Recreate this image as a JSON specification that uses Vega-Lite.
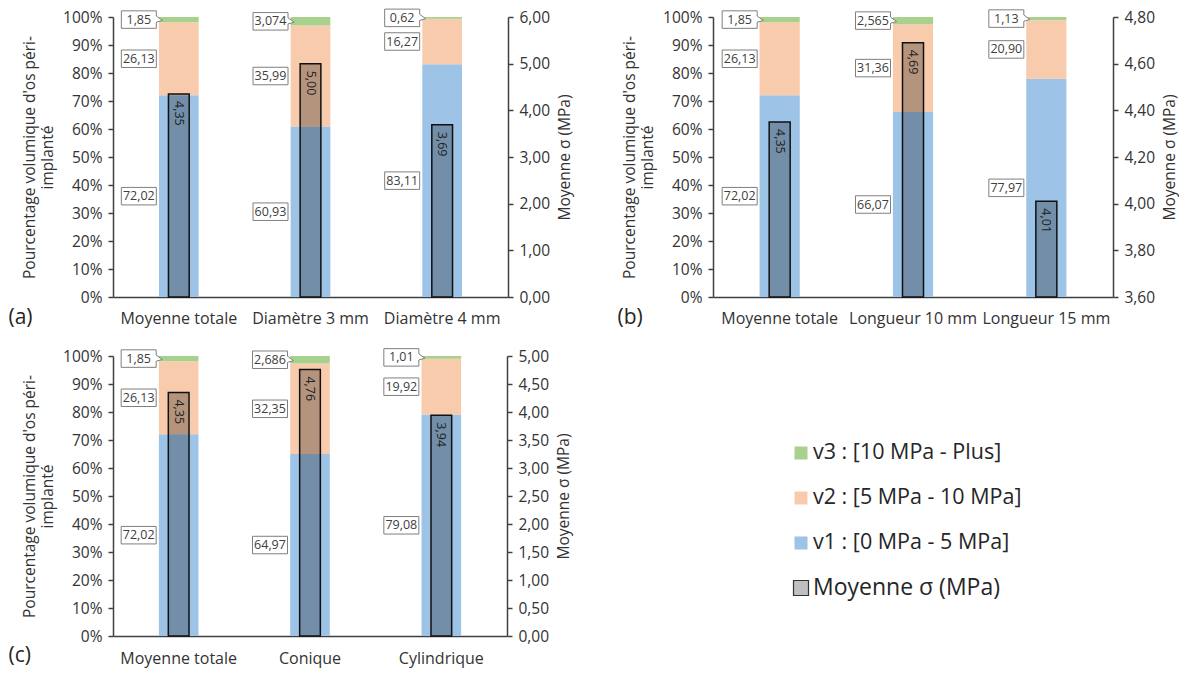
{
  "$schema": "https://vega.github.io/schema/vega-lite/v6.json",
  "background": "white",
  "padding": {"left": 8, "top": 7, "right": 0, "bottom": 5},
  "datasets": {
    "pct": [
      {"panel": "a", "cat": "Moyenne totale", "classe": "v1", "value": 72.02, "label": "72,02"},
      {"panel": "a", "cat": "Moyenne totale", "classe": "v2", "value": 26.13, "label": "26,13"},
      {"panel": "a", "cat": "Moyenne totale", "classe": "v3", "value": 1.85, "label": "1,85"},
      {"panel": "a", "cat": "Diamètre 3 mm", "classe": "v1", "value": 60.93, "label": "60,93"},
      {"panel": "a", "cat": "Diamètre 3 mm", "classe": "v2", "value": 35.99, "label": "35,99"},
      {"panel": "a", "cat": "Diamètre 3 mm", "classe": "v3", "value": 3.074, "label": "3,074"},
      {"panel": "a", "cat": "Diamètre 4 mm", "classe": "v1", "value": 83.11, "label": "83,11"},
      {"panel": "a", "cat": "Diamètre 4 mm", "classe": "v2", "value": 16.27, "label": "16,27"},
      {"panel": "a", "cat": "Diamètre 4 mm", "classe": "v3", "value": 0.62, "label": "0,62"},
      {"panel": "b", "cat": "Moyenne totale", "classe": "v1", "value": 72.02, "label": "72,02"},
      {"panel": "b", "cat": "Moyenne totale", "classe": "v2", "value": 26.13, "label": "26,13"},
      {"panel": "b", "cat": "Moyenne totale", "classe": "v3", "value": 1.85, "label": "1,85"},
      {"panel": "b", "cat": "Longueur 10 mm", "classe": "v1", "value": 66.07, "label": "66,07"},
      {"panel": "b", "cat": "Longueur 10 mm", "classe": "v2", "value": 31.36, "label": "31,36"},
      {"panel": "b", "cat": "Longueur 10 mm", "classe": "v3", "value": 2.565, "label": "2,565"},
      {"panel": "b", "cat": "Longueur 15 mm", "classe": "v1", "value": 77.97, "label": "77,97"},
      {"panel": "b", "cat": "Longueur 15 mm", "classe": "v2", "value": 20.90, "label": "20,90"},
      {"panel": "b", "cat": "Longueur 15 mm", "classe": "v3", "value": 1.13, "label": "1,13"},
      {"panel": "c", "cat": "Moyenne totale", "classe": "v1", "value": 72.02, "label": "72,02"},
      {"panel": "c", "cat": "Moyenne totale", "classe": "v2", "value": 26.13, "label": "26,13"},
      {"panel": "c", "cat": "Moyenne totale", "classe": "v3", "value": 1.85, "label": "1,85"},
      {"panel": "c", "cat": "Conique", "classe": "v1", "value": 64.97, "label": "64,97"},
      {"panel": "c", "cat": "Conique", "classe": "v2", "value": 32.35, "label": "32,35"},
      {"panel": "c", "cat": "Conique", "classe": "v3", "value": 2.686, "label": "2,686"},
      {"panel": "c", "cat": "Cylindrique", "classe": "v1", "value": 79.08, "label": "79,08"},
      {"panel": "c", "cat": "Cylindrique", "classe": "v2", "value": 19.92, "label": "19,92"},
      {"panel": "c", "cat": "Cylindrique", "classe": "v3", "value": 1.01, "label": "1,01"}
    ],
    "mean": [
      {"panel": "a", "cat": "Moyenne totale", "value": 4.35, "label": "4,35"},
      {"panel": "a", "cat": "Diamètre 3 mm", "value": 5.00, "label": "5,00"},
      {"panel": "a", "cat": "Diamètre 4 mm", "value": 3.69, "label": "3,69"},
      {"panel": "b", "cat": "Moyenne totale", "value": 4.35, "label": "4,35"},
      {"panel": "b", "cat": "Longueur 10 mm", "value": 4.69, "label": "4,69"},
      {"panel": "b", "cat": "Longueur 15 mm", "value": 4.01, "label": "4,01"},
      {"panel": "c", "cat": "Moyenne totale", "value": 4.35, "label": "4,35"},
      {"panel": "c", "cat": "Conique", "value": 4.76, "label": "4,76"},
      {"panel": "c", "cat": "Cylindrique", "value": 3.94, "label": "3,94"}
    ],
    "legend": [
      {"key": "v3", "label": "v3 : [10 MPa - Plus]"},
      {"key": "v2", "label": "v2 : [5 MPa - 10 MPa]"},
      {"key": "v1", "label": "v1 : [0 MPa - 5 MPa]"},
      {"key": "mean", "label": "Moyenne σ (MPa)"}
    ]
  },
  "spacing": 19,
  "vconcat": [
    {
      "spacing": 43,
      "hconcat": [
        {
          "width": 395, "height": 280,
          "layer": [
            {
              "data": {"name": "pct"},
              "transform": [{"filter": "datum.panel === 'a'"}],
              "encoding": {
                "x": {"field": "cat", "type": "nominal", "sort": ["Moyenne totale", "Diamètre 3 mm", "Diamètre 4 mm"],
                  "axis": {"title": "(a)", "titleX": -105, "titleY": 20, "titleAlign": "left", "titleBaseline": "middle", "titleFontSize": 21, "titleColor": "#262626", "labelAngle": 0, "ticks": false, "labelPadding": 13, "labelFontSize": 16}},
                "y": {"field": "value", "type": "quantitative", "stack": "zero", "scale": {"domain": [0, 100], "nice": false, "clamp": true},
                  "axis": {"orient": "left", "values": [0, 10, 20, 30, 40, 50, 60, 70, 80, 90, 100], "labelExpr": "datum.value + '%'", "title": ["Pourcentage volumique d'os péri-", "implanté"], "titlePadding": 7, "labelPadding": 6, "titleLineHeight": 18}},
                "order": {"field": "classe", "sort": "ascending"}
              },
              "layer": [
                {"mark": {"type": "bar", "width": {"band": 0.335}},
                 "encoding": {"color": {"field": "classe", "type": "nominal", "scale": {"domain": ["v1", "v2", "v3", "mean"], "range": ["#9DC3E6", "#F8CBAD", "#A9D18E", "#BFBFBF"]}, "legend": null}}},
                {"mark": {"type": "point", "size": 1225, "filled": true, "fill": "white", "stroke": "#7F7F7F", "strokeWidth": 1, "opacity": 1, "xOffset": -40},
                 "encoding": {"y": {"field": "value", "type": "quantitative", "stack": "zero", "bandPosition": 0.5}, "detail": {"field": "classe"},
                   "shape": {"condition": {"test": "datum.classe === 'v3'", "value": "M-1,-0.5L1,-0.5L1,-0.2L1.35,0.05L1,0.15L1,0.5L-1,0.5Z"}, "value": "M-1,-0.5L1,-0.5L1,0.5L-1,0.5Z"}}},
                {"mark": {"type": "text", "xOffset": -40, "fontSize": 12.5, "color": "#404040", "baseline": "middle", "align": "center"},
                 "encoding": {"y": {"field": "value", "type": "quantitative", "stack": "zero", "bandPosition": 0.5}, "detail": {"field": "classe"}, "text": {"field": "label"}}}
              ]
            },
            {
              "data": {"name": "mean"},
              "transform": [{"filter": "datum.panel === 'a'"}],
              "encoding": {
                "x": {"field": "cat", "type": "nominal", "sort": ["Moyenne totale", "Diamètre 3 mm", "Diamètre 4 mm"],
                  "axis": {"title": "(a)", "titleX": -105, "titleY": 20, "titleAlign": "left", "titleBaseline": "middle", "titleFontSize": 21, "titleColor": "#262626", "labelAngle": 0, "ticks": false, "labelPadding": 13, "labelFontSize": 16}},
                "y": {"field": "value", "type": "quantitative", "scale": {"domain": [0, 6], "nice": false, "clamp": true},
                  "axis": {"orient": "right", "values": [0, 1, 2, 3, 4, 5, 6], "labelExpr": "replace(format(datum.value, '.2f'), '.', ',')", "title": "Moyenne σ (MPa)", "titleAngle": -90, "titleBaseline": "top", "titlePadding": 8, "labelPadding": 6}}
              },
              "layer": [
                {"mark": {"type": "bar", "width": {"band": 0.175}, "fill": "#000000", "fillOpacity": 0.27, "stroke": "#111111", "strokeWidth": 1.5}},
                {"mark": {"type": "text", "angle": 90, "align": "left", "baseline": "middle", "dx": 7, "fontSize": 12.5, "color": "#222222"}, "encoding": {"text": {"field": "label"}}}
              ]
            }
          ],
          "resolve": {"scale": {"y": "independent"}, "axis": {"y": "independent"}}
        },
        {
          "width": 400, "height": 280,
          "layer": [
            {
              "data": {"name": "pct"},
              "transform": [{"filter": "datum.panel === 'b'"}],
              "encoding": {
                "x": {"field": "cat", "type": "nominal", "sort": ["Moyenne totale", "Longueur 10 mm", "Longueur 15 mm"],
                  "axis": {"title": "(b)", "titleX": -96, "titleY": 20, "titleAlign": "left", "titleBaseline": "middle", "titleFontSize": 21, "titleColor": "#262626", "labelAngle": 0, "ticks": false, "labelPadding": 13, "labelFontSize": 16}},
                "y": {"field": "value", "type": "quantitative", "stack": "zero", "scale": {"domain": [0, 100], "nice": false, "clamp": true},
                  "axis": {"orient": "left", "values": [0, 10, 20, 30, 40, 50, 60, 70, 80, 90, 100], "labelExpr": "datum.value + '%'", "title": ["Pourcentage volumique d'os péri-", "implanté"], "titlePadding": 7, "labelPadding": 6, "titleLineHeight": 18}},
                "order": {"field": "classe", "sort": "ascending"}
              },
              "layer": [
                {"mark": {"type": "bar", "width": {"band": 0.335}},
                 "encoding": {"color": {"field": "classe", "type": "nominal", "scale": {"domain": ["v1", "v2", "v3", "mean"], "range": ["#9DC3E6", "#F8CBAD", "#A9D18E", "#BFBFBF"]}, "legend": null}}},
                {"mark": {"type": "point", "size": 1225, "filled": true, "fill": "white", "stroke": "#7F7F7F", "strokeWidth": 1, "opacity": 1, "xOffset": -40},
                 "encoding": {"y": {"field": "value", "type": "quantitative", "stack": "zero", "bandPosition": 0.5}, "detail": {"field": "classe"},
                   "shape": {"condition": {"test": "datum.classe === 'v3'", "value": "M-1,-0.5L1,-0.5L1,-0.2L1.35,0.05L1,0.15L1,0.5L-1,0.5Z"}, "value": "M-1,-0.5L1,-0.5L1,0.5L-1,0.5Z"}}},
                {"mark": {"type": "text", "xOffset": -40, "fontSize": 12.5, "color": "#404040", "baseline": "middle", "align": "center"},
                 "encoding": {"y": {"field": "value", "type": "quantitative", "stack": "zero", "bandPosition": 0.5}, "detail": {"field": "classe"}, "text": {"field": "label"}}}
              ]
            },
            {
              "data": {"name": "mean"},
              "transform": [{"filter": "datum.panel === 'b'"}],
              "encoding": {
                "x": {"field": "cat", "type": "nominal", "sort": ["Moyenne totale", "Longueur 10 mm", "Longueur 15 mm"],
                  "axis": {"title": "(b)", "titleX": -96, "titleY": 20, "titleAlign": "left", "titleBaseline": "middle", "titleFontSize": 21, "titleColor": "#262626", "labelAngle": 0, "ticks": false, "labelPadding": 13, "labelFontSize": 16}},
                "y": {"field": "value", "type": "quantitative", "scale": {"domain": [3.6, 4.8], "nice": false, "zero": false, "clamp": true},
                  "axis": {"orient": "right", "values": [3.6, 3.8, 4.0, 4.2, 4.4, 4.6, 4.8], "labelExpr": "replace(format(datum.value, '.2f'), '.', ',')", "title": "Moyenne σ (MPa)", "titleAngle": -90, "titleBaseline": "top", "titlePadding": 8, "labelPadding": 6}}
              },
              "layer": [
                {"mark": {"type": "bar", "width": {"band": 0.175}, "fill": "#000000", "fillOpacity": 0.27, "stroke": "#111111", "strokeWidth": 1.5}},
                {"mark": {"type": "text", "angle": 90, "align": "left", "baseline": "middle", "dx": 7, "fontSize": 12.5, "color": "#222222"}, "encoding": {"text": {"field": "label"}}}
              ]
            }
          ],
          "resolve": {"scale": {"y": "independent"}, "axis": {"y": "independent"}}
        }
      ]
    },
    {
      "spacing": 218,
      "hconcat": [
        {
          "width": 394, "height": 280,
          "layer": [
            {
              "data": {"name": "pct"},
              "transform": [{"filter": "datum.panel === 'c'"}],
              "encoding": {
                "x": {"field": "cat", "type": "nominal", "sort": ["Moyenne totale", "Conique", "Cylindrique"],
                  "axis": {"title": "(c)", "titleX": -105, "titleY": 19, "titleAlign": "left", "titleBaseline": "middle", "titleFontSize": 21, "titleColor": "#262626", "labelAngle": 0, "ticks": false, "labelPadding": 14, "labelFontSize": 16}},
                "y": {"field": "value", "type": "quantitative", "stack": "zero", "scale": {"domain": [0, 100], "nice": false, "clamp": true},
                  "axis": {"orient": "left", "values": [0, 10, 20, 30, 40, 50, 60, 70, 80, 90, 100], "labelExpr": "datum.value + '%'", "title": ["Pourcentage volumique d'os péri-", "implanté"], "titlePadding": 7, "labelPadding": 6, "titleLineHeight": 18}},
                "order": {"field": "classe", "sort": "ascending"}
              },
              "layer": [
                {"mark": {"type": "bar", "width": {"band": 0.335}},
                 "encoding": {"color": {"field": "classe", "type": "nominal", "scale": {"domain": ["v1", "v2", "v3", "mean"], "range": ["#9DC3E6", "#F8CBAD", "#A9D18E", "#BFBFBF"]}, "legend": null}}},
                {"mark": {"type": "point", "size": 1225, "filled": true, "fill": "white", "stroke": "#7F7F7F", "strokeWidth": 1, "opacity": 1, "xOffset": -40},
                 "encoding": {"y": {"field": "value", "type": "quantitative", "stack": "zero", "bandPosition": 0.5}, "detail": {"field": "classe"},
                   "shape": {"condition": {"test": "datum.classe === 'v3'", "value": "M-1,-0.5L1,-0.5L1,-0.2L1.35,0.05L1,0.15L1,0.5L-1,0.5Z"}, "value": "M-1,-0.5L1,-0.5L1,0.5L-1,0.5Z"}}},
                {"mark": {"type": "text", "xOffset": -40, "fontSize": 12.5, "color": "#404040", "baseline": "middle", "align": "center"},
                 "encoding": {"y": {"field": "value", "type": "quantitative", "stack": "zero", "bandPosition": 0.5}, "detail": {"field": "classe"}, "text": {"field": "label"}}}
              ]
            },
            {
              "data": {"name": "mean"},
              "transform": [{"filter": "datum.panel === 'c'"}],
              "encoding": {
                "x": {"field": "cat", "type": "nominal", "sort": ["Moyenne totale", "Conique", "Cylindrique"],
                  "axis": {"title": "(c)", "titleX": -105, "titleY": 19, "titleAlign": "left", "titleBaseline": "middle", "titleFontSize": 21, "titleColor": "#262626", "labelAngle": 0, "ticks": false, "labelPadding": 14, "labelFontSize": 16}},
                "y": {"field": "value", "type": "quantitative", "scale": {"domain": [0, 5], "nice": false, "clamp": true},
                  "axis": {"orient": "right", "values": [0, 0.5, 1, 1.5, 2, 2.5, 3, 3.5, 4, 4.5, 5], "labelExpr": "replace(format(datum.value, '.2f'), '.', ',')", "title": "Moyenne σ (MPa)", "titleAngle": -90, "titleBaseline": "top", "titlePadding": 8, "labelPadding": 6}}
              },
              "layer": [
                {"mark": {"type": "bar", "width": {"band": 0.175}, "fill": "#000000", "fillOpacity": 0.27, "stroke": "#111111", "strokeWidth": 1.5}},
                {"mark": {"type": "text", "angle": 90, "align": "left", "baseline": "middle", "dx": 7, "fontSize": 12.5, "color": "#222222"}, "encoding": {"text": {"field": "label"}}}
              ]
            }
          ],
          "resolve": {"scale": {"y": "independent"}, "axis": {"y": "independent"}}
        },
        {
          "width": 300, "height": 280,
          "data": {"name": "legend"},
          "encoding": {
            "y": {"field": "key", "type": "nominal", "sort": ["v3", "v2", "v1", "mean"], "axis": null, "scale": {"range": [97, 232], "padding": 0}}
          },
          "layer": [
            {"mark": {"type": "point", "shape": "square", "filled": true, "opacity": 1},
             "encoding": {
               "x": {"value": 10},
               "color": {"field": "key", "type": "nominal", "scale": {"domain": ["v1", "v2", "v3", "mean"], "range": ["#9DC3E6", "#F8CBAD", "#A9D18E", "#BFBFBF"]}, "legend": null},
               "size": {"condition": {"test": "datum.key === 'mean'", "value": 225}, "value": 169},
               "stroke": {"condition": {"test": "datum.key === 'mean'", "value": "#333333"}, "value": "transparent"},
               "strokeWidth": {"value": 1.2}
             }},
            {"mark": {"type": "text", "align": "left", "baseline": "middle", "color": "#262626"},
             "encoding": {
               "x": {"value": 22},
               "text": {"field": "label"},
               "size": {"condition": {"test": "datum.key === 'mean'", "value": 23}, "value": 21.5}
             }}
          ]
        }
      ]
    }
  ],
  "config": {
    "font": "Open Sans",
    "view": {"stroke": null},
    "axis": {
      "grid": false,
      "labelFont": "Open Sans", "labelFontSize": 15.5, "labelColor": "#333333",
      "titleFont": "Open Sans", "titleFontSize": 15.5, "titleFontWeight": "normal", "titleColor": "#333333",
      "domainColor": "#404040", "domainWidth": 1.5, "tickColor": "#404040", "tickWidth": 1.5, "tickSize": 5
    }
  }
}
